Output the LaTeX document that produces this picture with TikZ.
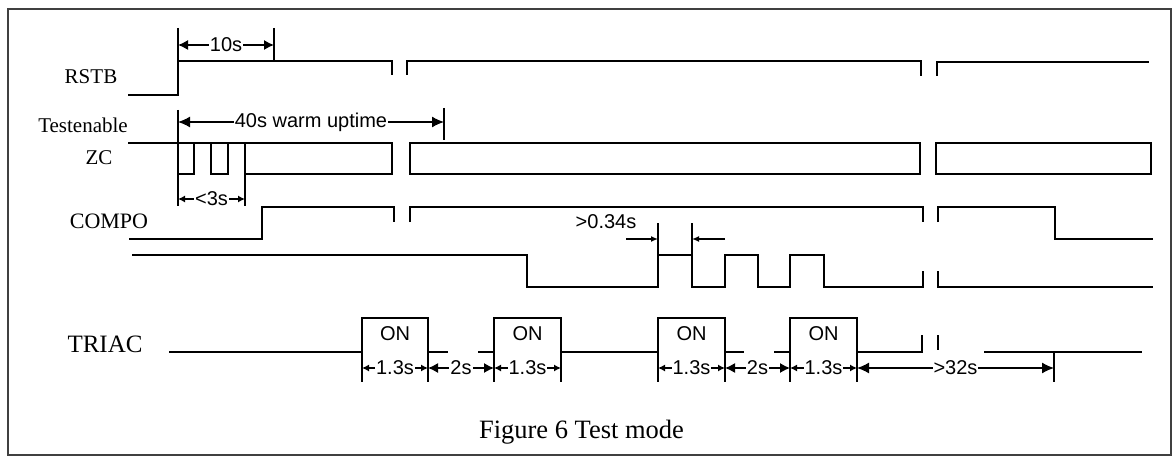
\documentclass[tikz,border=0pt]{standalone}
\usepackage{fontspec}
\setmainfont{Liberation Serif}
\setsansfont{Liberation Sans}
\usetikzlibrary{arrows.meta, positioning}

\begin{document}
\begin{tikzpicture}[x = 1pt, y = -1pt]%
    %
    \tikzstyle{signal} = [line width = 1.7pt, draw = black]%
    \tikzstyle{extline} = [line width = 1.5pt, draw = black]%
    \tikzstyle{dimarrow} = [{Latex[length = 12pt, width = 11pt]}-{Latex[length = 12pt, width = 11pt]}, line width = 1.3pt]%
    \tikzstyle{midarrow} = [{Latex[length = 10pt, width = 10pt]}-{Latex[length = 10pt, width = 10pt]}, line width = 1.3pt]%
    \tikzstyle{smallarrow} = [{Latex[length = 7pt, width = 7pt]}-{Latex[length = 7pt, width = 7pt]}, line width = 1.3pt]%
    \tikzstyle{pointer} = [-{Latex[length = 7pt, width = 6pt]}, line width = 1.3pt]%
    \tikzstyle{siglabel} = [font = \fontsize{21}{21}\selectfont, anchor = base, inner sep = 0pt]%
    \tikzstyle{dimtext} = [font = \sffamily\fontsize{20}{20}\selectfont, fill = white, inner sep = 1pt]%
    \tikzstyle{ontext} = [font = \sffamily\fontsize{20}{20}\selectfont, anchor = base, inner sep = 0pt]%
    %
    \useasboundingbox (0, 0) rectangle (1174, 457);%
    \draw [line width = 2pt, black!75] (8, 9) rectangle (1171, 455);%
    %
    % Labels
    \node (rstb) [siglabel] at (91, 84) {RSTB};%
    \node (testenable) [siglabel] at (83, 132.5) {Testenable};%
    \node (zc) [siglabel] at (99, 165) {ZC};%
    \node (compo) [siglabel, font = \fontsize{22}{22}\selectfont] at (109, 228) {COMPO};%
    \node (triac) [siglabel, font = \fontsize{25}{25}\selectfont] at (105, 352) {TRIAC};%
    %
    % RSTB
    \draw [signal] (128, 95) -- (178, 95) -- (178, 61) -- (392, 61) -- (392, 75);%
    \draw [signal] (407, 75) -- (407, 61) -- (921, 61) -- (921, 76);%
    \draw [signal] (937, 76) -- (937, 62) -- (1149, 62);%
    \draw [extline] (178, 28) -- (178, 61);%
    \draw [extline] (274, 28) -- (274, 61);%
    \draw [midarrow] (178, 45) -- (274, 45) node [dimtext, midway] {10s};%
    %
    % ZC
    \draw [signal] (128, 143) -- (178, 143);%
    \draw [signal] (178, 143) rectangle (194, 174);%
    \draw [signal] (194, 143) -- (211, 143);%
    \draw [signal] (211, 143) rectangle (228, 174);%
    \draw [signal] (228, 143) -- (245, 143);%
    \draw [signal] (245, 143) rectangle (392, 174);%
    \draw [signal] (410, 143) rectangle (920, 174);%
    \draw [signal] (936, 143) rectangle (1151, 174);%
    \draw [extline] (178, 110) -- (178, 143);%
    \draw [extline] (444, 108) -- (444, 140);%
    \draw [dimarrow] (178, 122) -- (444, 122) node [dimtext, midway] {40s warm uptime};%
    \draw [extline] (178, 174) -- (178, 206);%
    \draw [extline] (245, 174) -- (245, 206);%
    \draw [smallarrow] (178, 199) -- (245, 199) node [dimtext, midway] {<3s};%
    %
    % COMPO
    \draw [signal] (129, 239) -- (262, 239) -- (262, 207) -- (394, 207) -- (394, 222);%
    \draw [signal] (410, 222) -- (410, 207) -- (923, 207) -- (923, 222);%
    \draw [signal] (938, 222) -- (938, 207) -- (1055, 207) -- (1055, 239) -- (1153, 239);%
    %
    % Second trace
    \draw [signal] (132, 255) -- (527, 255) -- (527, 287) -- (658, 287) -- (658, 255)
        -- (692, 255) -- (692, 287) -- (725, 287) -- (725, 255) -- (758, 255)
        -- (758, 287) -- (790, 287) -- (790, 255) -- (824, 255) -- (824, 287)
        -- (923, 287) -- (923, 271);%
    \draw [signal] (938, 271) -- (938, 287) -- (1153, 287);%
    \draw [extline] (658, 223) -- (658, 255);%
    \draw [extline] (692, 223) -- (692, 255);%
    \draw [pointer] (626, 239) -- (658, 239);%
    \draw [pointer] (725, 239) -- (692, 239);%
    \node (gapmin) [dimtext, fill = none, anchor = base] at (606, 228) {>0.34s};%
    %
    % TRIAC
    \draw [signal] (169, 352) -- (362, 352) -- (362, 318) -- (428, 318) -- (428, 352) -- (448, 352);%
    \draw [signal] (478, 352) -- (494, 352) -- (494, 318) -- (561, 318) -- (561, 352)
        -- (658, 352) -- (658, 318) -- (725, 318) -- (725, 352) -- (744, 352);%
    \draw [signal] (774, 352) -- (790, 352) -- (790, 318) -- (857, 318) -- (857, 352)
        -- (922, 352) -- (922, 335);%
    \draw [signal] (938, 335) -- (938, 350);%
    \draw [signal] (984, 352) -- (1142, 352);%
    %
    % Pulse widths
    \draw [extline] (362, 352) -- (362, 382);%
    \draw [extline] (428, 352) -- (428, 382);%
    \draw [extline] (494, 352) -- (494, 382);%
    \draw [extline] (561, 352) -- (561, 382);%
    \draw [extline] (658, 352) -- (658, 382);%
    \draw [extline] (725, 352) -- (725, 382);%
    \draw [extline] (790, 352) -- (790, 382);%
    \draw [extline] (857, 352) -- (857, 382);%
    \draw [extline] (1054, 352) -- (1054, 382);%
    \node (on1) [ontext] at (395, 340) {ON};%
    \node (on2) [ontext] at (527.5, 340) {ON};%
    \node (on3) [ontext] at (691.5, 340) {ON};%
    \node (on4) [ontext] at (823.5, 340) {ON};%
    \draw [smallarrow] (362, 368) -- (428, 368) node [dimtext, midway] {1.3s};%
    \draw [midarrow] (428, 368) -- (494, 368) node [dimtext, midway] {2s};%
    \draw [smallarrow] (494, 368) -- (561, 368) node [dimtext, midway] {1.3s};%
    \draw [smallarrow] (658, 368) -- (725, 368) node [dimtext, midway] {1.3s};%
    \draw [midarrow] (725, 368) -- (790, 368) node [dimtext, midway] {2s};%
    \draw [smallarrow] (790, 368) -- (857, 368) node [dimtext, midway] {1.3s};%
    \draw [dimarrow] (857, 368) -- (1054, 368) node [dimtext, midway] {>32s};%
    %
    % Caption
    \node (caption) [font = \fontsize{26.5}{26.5}\selectfont, anchor = base] at (581.5, 438) {Figure 6 Test mode};%
    %
\end{tikzpicture}
\end{document}
